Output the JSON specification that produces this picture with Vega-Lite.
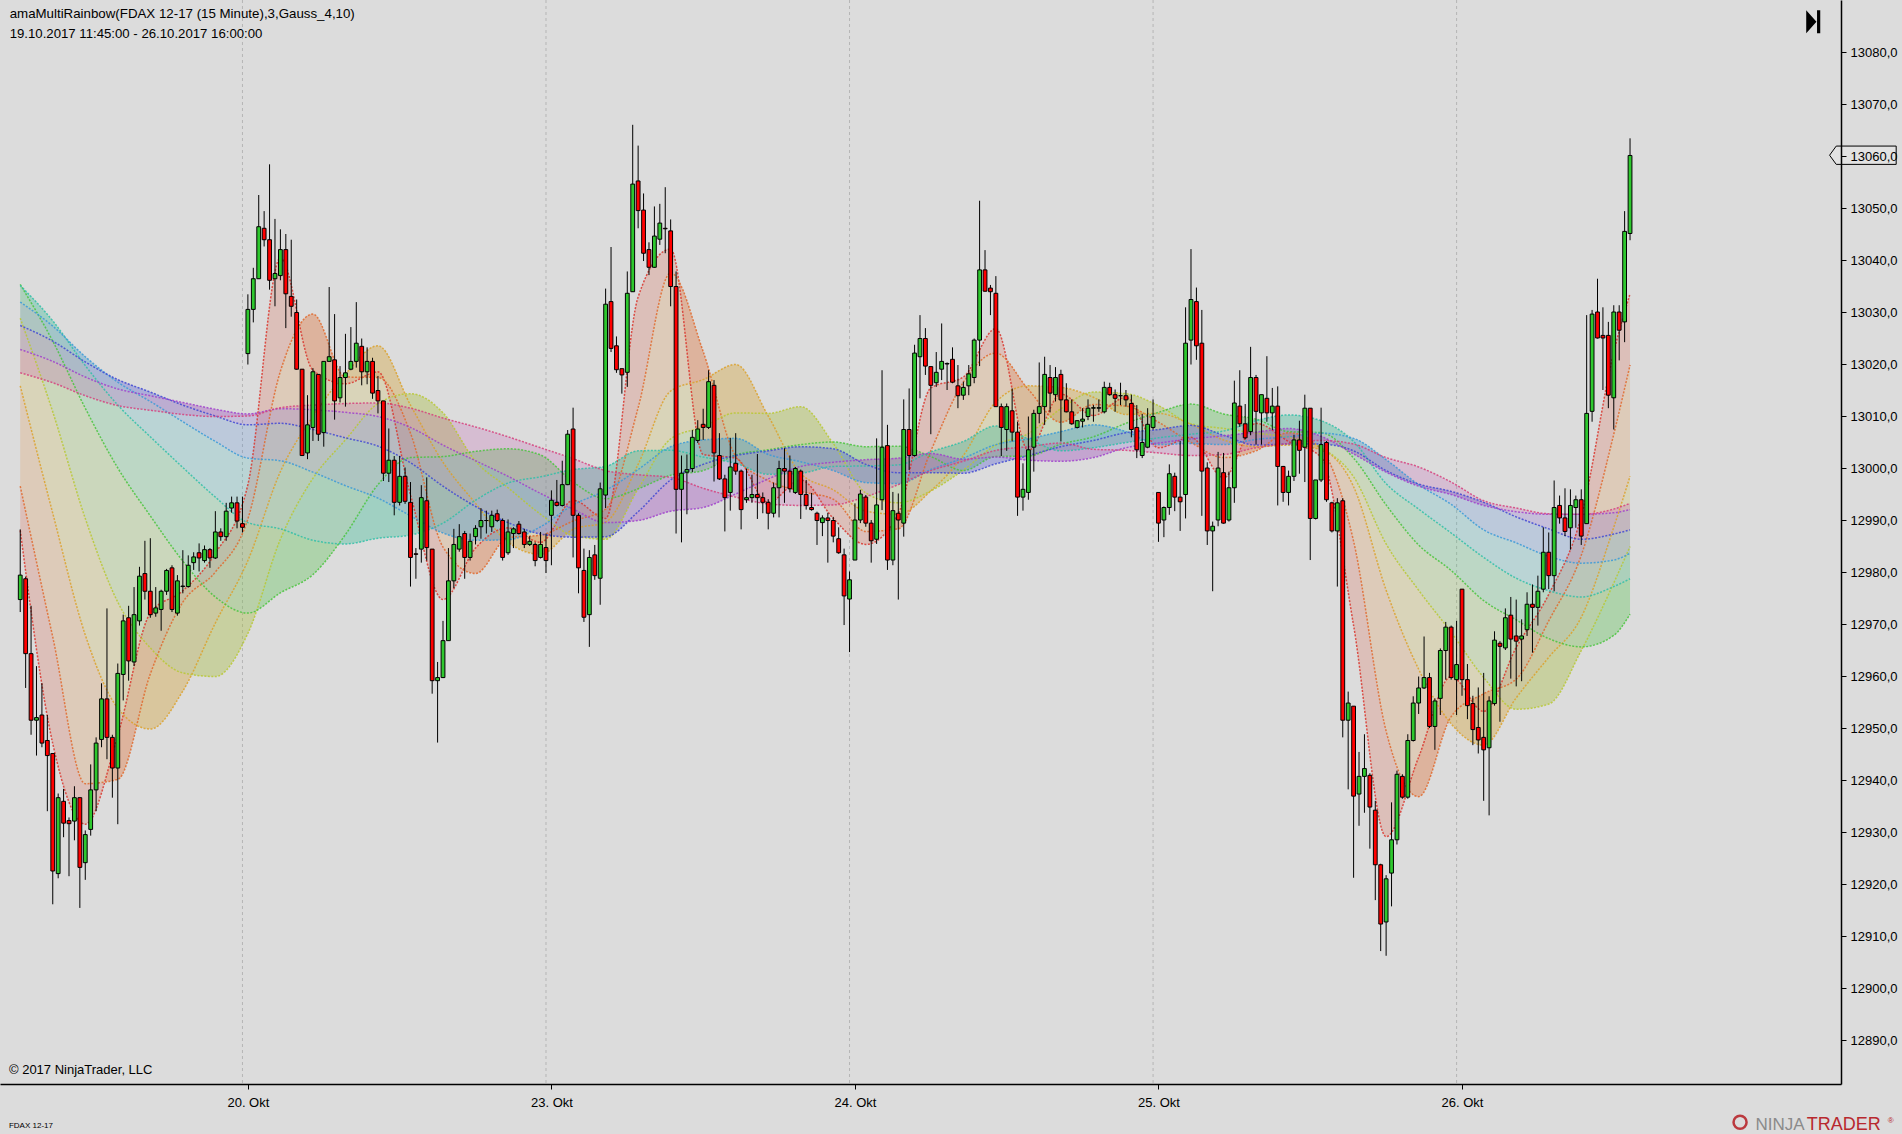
{
  "$schema": "https://vega.github.io/schema/vega-lite/v6.json",
  "width": 1841,
  "height": 1084,
  "autosize": {"type": "none"},
  "padding": {"left": 0, "top": 0, "right": 61, "bottom": 50},
  "background": "#dcdcdc",
  "config": {"view": {"stroke": null}, "font": "Liberation Sans", "axis": {"grid": false}},
  "datasets": {
    "days": [{"i": 41}, {"i": 97}, {"i": 153}, {"i": 209}, {"i": 265}],
    "mas": [
      {"i":0,"p06":12988.0,"p12":12996.5,"p24":13015.8,"p36":13028.8,"p54":13035.3,"p72":13035.1,"p90":13031.9,"p108":13027.4,"p126":13022.8,"p150":13018.3},
      {"i":6,"p06":12947.0,"p12":12967.5,"p24":12991.3,"p36":13010.8,"p54":13024.4,"p72":13028.3,"p90":13027.3,"p108":13024.4,"p126":13020.5,"p150":13016.4},
      {"i":12,"p06":12931.5,"p12":12939.3,"p24":12967.9,"p36":12990.3,"p54":13011.5,"p72":13019.7,"p90":13021.4,"p108":13020.4,"p126":13017.5,"p150":13013.9},
      {"i":18,"p06":12948.6,"p12":12940.1,"p24":12953.8,"p36":12974.2,"p54":13000.0,"p72":13012.1,"p90":13016.5,"p108":13017.0,"p126":13015.2,"p150":13012.0},
      {"i":24,"p06":12972.1,"p12":12960.4,"p24":12949.8,"p36":12965.4,"p54":12990.8,"p72":13006.0,"p90":13012.8,"p108":13014.6,"p126":13013.9,"p150":13011.1},
      {"i":30,"p06":12976.4,"p12":12974.2,"p24":12957.1,"p36":12960.6,"p54":12982.1,"p72":13000.1,"p90":13008.9,"p108":13012.1,"p126":13012.6,"p150":13010.3},
      {"i":36,"p06":12983.6,"p12":12980.0,"p24":12970.2,"p36":12959.9,"p54":12975.2,"p72":12994.4,"p90":13005.1,"p108":13010.0,"p126":13011.3,"p150":13009.9},
      {"i":42,"p06":12996.8,"p12":12990.2,"p24":12982.2,"p36":12968.2,"p54":12972.1,"p72":12989.5,"p90":13001.9,"p108":13008.3,"p126":13010.4,"p150":13010.0},
      {"i":48,"p06":13040.4,"p12":13018.6,"p24":12999.3,"p36":12986.3,"p54":12976.0,"p72":12988.3,"p90":13001.4,"p108":13008.6,"p126":13011.4,"p150":13011.6},
      {"i":54,"p06":13018.8,"p12":13029.6,"p24":13009.9,"p36":12998.0,"p54":12979.5,"p72":12986.1,"p90":12999.2,"p108":13007.4,"p126":13011.2,"p150":13012.1},
      {"i":60,"p06":13016.2,"p12":13017.5,"p24":13018.1,"p36":13005.4,"p54":12987.2,"p72":12985.4,"p90":12996.6,"p108":13005.8,"p126":13010.7,"p150":13012.4},
      {"i":66,"p06":13018.5,"p12":13017.4,"p24":13023.5,"p36":13012.4,"p54":12996.8,"p72":12986.5,"p90":12994.2,"p108":13004.2,"p126":13009.9,"p150":13012.5},
      {"i":72,"p06":12994.8,"p12":13006.7,"p24":13012.1,"p36":13014.3,"p54":13002.0,"p72":12987.1,"p90":12990.8,"p108":13001.0,"p126":13007.8,"p150":13011.5},
      {"i":78,"p06":12974.7,"p12":12984.8,"p24":13001.1,"p36":13010.6,"p54":13002.2,"p72":12989.4,"p90":12987.5,"p108":12996.5,"p126":13004.4,"p150":13009.6},
      {"i":84,"p06":12984.6,"p12":12979.7,"p24":12993.2,"p36":13001.3,"p54":13003.2,"p72":12993.8,"p90":12986.1,"p108":12992.6,"p126":13001.4,"p150":13007.9},
      {"i":90,"p06":12988.5,"p12":12986.6,"p24":12985.7,"p36":12996.2,"p54":13003.7,"p72":12997.1,"p90":12986.2,"p108":12989.5,"p126":12998.4,"p150":13006.0},
      {"i":96,"p06":12985.7,"p12":12987.1,"p24":12983.4,"p36":12991.1,"p54":13002.5,"p72":12998.3,"p90":12988.7,"p108":12987.3,"p126":12995.1,"p150":13003.9},
      {"i":102,"p06":12993.8,"p12":12989.8,"p24":12988.2,"p36":12987.0,"p54":12997.3,"p72":12999.7,"p90":12992.9,"p108":12986.7,"p126":12992.1,"p150":13001.8},
      {"i":108,"p06":12990.3,"p12":12992.1,"p24":12989.6,"p36":12986.3,"p54":12994.1,"p72":13000.3,"p90":12995.7,"p108":12986.8,"p126":12989.5,"p150":12999.5},
      {"i":114,"p06":13032.9,"p12":13011.6,"p24":13000.7,"p36":12996.0,"p54":12996.0,"p72":13003.3,"p90":12999.7,"p108":12991.6,"p126":12989.9,"p150":12998.7},
      {"i":120,"p06":13042.1,"p12":13037.5,"p24":13014.8,"p36":13005.6,"p54":12998.6,"p72":13003.4,"p90":13004.1,"p108":12997.7,"p126":12991.7,"p150":12998.2},
      {"i":126,"p06":13002.6,"p12":13022.4,"p24":13017.0,"p36":13007.9,"p54":12999.5,"p72":13002.1,"p90":13005.4,"p108":13000.7,"p126":12992.4,"p150":12996.1},
      {"i":132,"p06":13001.9,"p12":13002.3,"p24":13019.9,"p36":13010.6,"p54":13002.5,"p72":13000.9,"p90":13005.7,"p108":13002.4,"p126":12995.0,"p150":12994.4},
      {"i":138,"p06":12993.4,"p12":12997.6,"p24":13010.0,"p36":13010.5,"p54":13003.5,"p72":12998.8,"p90":13002.6,"p108":13003.3,"p126":12997.9,"p150":12993.1},
      {"i":144,"p06":12997.7,"p12":12995.5,"p24":12998.9,"p36":13011.8,"p54":13004.5,"p72":12999.0,"p90":13001.2,"p108":13004.1,"p126":13000.3,"p150":12992.8},
      {"i":150,"p06":12990.3,"p12":12994.0,"p24":12995.8,"p36":13004.7,"p54":13005.0,"p72":13000.3,"p90":12999.5,"p108":13003.7,"p126":13001.1,"p150":12992.9},
      {"i":156,"p06":12985.3,"p12":12987.8,"p24":12991.7,"p36":12995.2,"p54":13004.1,"p72":13000.4,"p90":12997.2,"p108":13000.7,"p126":13001.6,"p150":12994.5},
      {"i":162,"p06":12991.2,"p12":12988.3,"p24":12991.1,"p36":12993.3,"p54":13004.2,"p72":13000.6,"p90":12997.0,"p108":12999.1,"p126":13001.9,"p150":12996.8},
      {"i":168,"p06":13015.4,"p12":13003.3,"p24":12995.6,"p36":12995.6,"p54":13002.2,"p72":13003.1,"p90":12999.7,"p108":12999.1,"p126":13002.8,"p150":12999.5},
      {"i":174,"p06":13017.5,"p12":13016.5,"p24":13002.4,"p36":12999.6,"p54":12999.5,"p72":13005.1,"p90":13001.9,"p108":12999.0,"p126":13001.7,"p150":13001.3},
      {"i":180,"p06":13026.8,"p12":13022.1,"p24":13012.7,"p36":13004.4,"p54":13002.2,"p72":13008.1,"p90":13004.5,"p108":13000.8,"p126":13002.1,"p150":13003.4},
      {"i":186,"p06":13003.4,"p12":13015.1,"p24":13015.8,"p36":13006.6,"p54":13002.3,"p72":13005.6,"p90":13005.6,"p108":13002.4,"p126":13001.5,"p150":13004.1},
      {"i":192,"p06":13014.2,"p12":13008.8,"p24":13015.5,"p36":13011.4,"p54":13004.6,"p72":13003.3,"p90":13007.0,"p108":13004.1,"p126":13001.3,"p150":13004.8},
      {"i":198,"p06":13010.1,"p12":13012.2,"p24":13013.6,"p36":13014.6,"p54":13006.0,"p72":13003.9,"p90":13008.3,"p108":13005.3,"p126":13002.0,"p150":13003.6},
      {"i":204,"p06":13013.6,"p12":13011.9,"p24":13010.3,"p36":13014.3,"p54":13008.6,"p72":13004.9,"p90":13007.0,"p108":13006.8,"p126":13003.9,"p150":13003.4},
      {"i":210,"p06":13003.9,"p12":13008.8,"p24":13010.5,"p36":13012.0,"p54":13010.7,"p72":13005.8,"p90":13004.5,"p108":13007.4,"p126":13004.8,"p150":13002.9},
      {"i":216,"p06":13005.9,"p12":13004.9,"p24":13008.4,"p36":13008.5,"p54":13012.3,"p72":13006.5,"p90":13004.7,"p108":13008.2,"p126":13005.6,"p150":13002.4},
      {"i":222,"p06":12998.1,"p12":13002.0,"p24":13005.4,"p36":13007.6,"p54":13010.4,"p72":13007.1,"p90":13004.5,"p108":13006.3,"p126":13006.2,"p150":13002.6},
      {"i":228,"p06":13008.6,"p12":13003.3,"p24":13004.1,"p36":13006.7,"p54":13009.4,"p72":13009.1,"p90":13005.5,"p108":13004.4,"p126":13006.9,"p150":13003.9},
      {"i":234,"p06":13005.1,"p12":13006.8,"p24":13004.4,"p36":13005.9,"p54":13007.0,"p72":13010.2,"p90":13006.0,"p108":13004.6,"p126":13007.6,"p150":13004.7},
      {"i":240,"p06":13002.1,"p12":13003.6,"p24":13003.5,"p36":13003.9,"p54":13006.8,"p72":13009.1,"p90":13006.7,"p108":13004.6,"p126":13006.1,"p150":13005.3},
      {"i":246,"p06":12969.7,"p12":12985.9,"p24":12996.4,"p36":12998.3,"p54":13001.9,"p72":13005.1,"p90":13005.7,"p108":13003.3,"p126":13002.7,"p150":13004.6},
      {"i":252,"p06":12929.1,"p12":12949.4,"p24":12976.5,"p36":12985.4,"p54":12992.9,"p72":12997.0,"p90":13001.6,"p108":12999.5,"p126":12999.2,"p150":13002.0},
      {"i":258,"p06":12944.4,"p12":12936.8,"p24":12961.3,"p36":12976.5,"p54":12985.2,"p72":12992.1,"p90":12996.8,"p108":12996.9,"p126":12996.5,"p150":13000.2},
      {"i":264,"p06":12959.9,"p12":12952.2,"p24":12950.8,"p36":12968.4,"p54":12980.3,"p72":12987.5,"p90":12993.0,"p108":12995.5,"p126":12994.9,"p150":12997.3},
      {"i":270,"p06":12953.2,"p12":12956.6,"p24":12946.7,"p36":12959.7,"p54":12974.5,"p72":12982.8,"p90":12988.1,"p108":12993.4,"p126":12992.8,"p150":12993.7},
      {"i":276,"p06":12965.5,"p12":12959.4,"p24":12955.8,"p36":12953.6,"p54":12970.8,"p72":12978.8,"p90":12985.6,"p108":12990.6,"p126":12991.6,"p150":12992.3},
      {"i":282,"p06":12975.7,"p12":12970.6,"p24":12963.6,"p36":12954.6,"p54":12967.2,"p72":12976.4,"p90":12983.0,"p108":12988.3,"p126":12991.1,"p150":12991.2},
      {"i":288,"p06":12990.7,"p12":12983.2,"p24":12971.3,"p36":12964.9,"p54":12965.6,"p72":12975.2,"p90":12981.7,"p108":12986.3,"p126":12991.1,"p150":12991.1},
      {"i":294,"p06":13022.3,"p12":13006.5,"p24":12988.6,"p36":12977.9,"p54":12967.8,"p72":12977.2,"p90":12982.3,"p108":12987.3,"p126":12991.4,"p150":12992.1},
      {"i":297,"p06":13033.5,"p12":13019.8,"p24":12998.4,"p36":12984.9,"p54":12971.9,"p72":12978.7,"p90":12983.6,"p108":12988.1,"p126":12992.0,"p150":12993.2}
    ],
    "bars": [
      {"i":0,"o":12974.7,"h":12988.2,"l":12972.3,"c":12979.4},
      {"i":1,"o":12978.7,"h":12979.1,"l":12957.7,"c":12964.3},
      {"i":2,"o":12964.3,"h":12973.5,"l":12948.7,"c":12951.5},
      {"i":3,"o":12951.5,"h":12961.9,"l":12944.7,"c":12952.0},
      {"i":4,"o":12952.5,"h":12958.6,"l":12946.3,"c":12947.1},
      {"i":5,"o":12947.6,"h":12952.5,"l":12934.0,"c":12944.7},
      {"i":6,"o":12945.1,"h":12945.1,"l":12916.1,"c":12922.5},
      {"i":7,"o":12922.0,"h":12937.4,"l":12921.1,"c":12936.6},
      {"i":8,"o":12935.9,"h":12938.3,"l":12929.0,"c":12931.7},
      {"i":9,"o":12932.2,"h":12932.8,"l":12921.5,"c":12931.6},
      {"i":10,"o":12932.1,"h":12938.8,"l":12928.4,"c":12936.6},
      {"i":11,"o":12936.6,"h":12936.6,"l":12915.4,"c":12923.2},
      {"i":12,"o":12924.1,"h":12930.3,"l":12920.8,"c":12929.5},
      {"i":13,"o":12930.5,"h":12943.0,"l":12929.3,"c":12938.1},
      {"i":14,"o":12938.1,"h":12948.2,"l":12934.0,"c":12947.1},
      {"i":15,"o":12947.8,"h":12958.6,"l":12946.3,"c":12955.6},
      {"i":16,"o":12955.6,"h":12973.0,"l":12944.0,"c":12948.2},
      {"i":17,"o":12948.2,"h":12948.7,"l":12936.6,"c":12942.3},
      {"i":18,"o":12942.3,"h":12962.4,"l":12931.5,"c":12960.5},
      {"i":19,"o":12960.3,"h":12971.8,"l":12955.3,"c":12970.6},
      {"i":20,"o":12971.2,"h":12973.5,"l":12959.1,"c":12962.9},
      {"i":21,"o":12962.7,"h":12977.1,"l":12961.9,"c":12971.8},
      {"i":22,"o":12970.6,"h":12981.0,"l":12969.7,"c":12979.2},
      {"i":23,"o":12979.7,"h":12986.0,"l":12974.7,"c":12976.3},
      {"i":24,"o":12976.3,"h":12986.5,"l":12971.2,"c":12971.8},
      {"i":25,"o":12972.1,"h":12977.1,"l":12971.4,"c":12973.1},
      {"i":26,"o":12972.8,"h":12976.6,"l":12968.7,"c":12976.3},
      {"i":27,"o":12976.3,"h":12980.6,"l":12975.6,"c":12980.3},
      {"i":28,"o":12980.8,"h":12981.3,"l":12972.3,"c":12972.8},
      {"i":29,"o":12972.1,"h":12979.4,"l":12971.6,"c":12978.3},
      {"i":30,"o":12977.2,"h":12984.2,"l":12975.9,"c":12977.3},
      {"i":31,"o":12977.2,"h":12983.2,"l":12977.0,"c":12981.3},
      {"i":32,"o":12981.8,"h":12983.8,"l":12980.4,"c":12982.9},
      {"i":33,"o":12983.7,"h":12985.5,"l":12980.1,"c":12982.7},
      {"i":34,"o":12982.2,"h":12985.1,"l":12981.8,"c":12984.3},
      {"i":35,"o":12984.3,"h":12984.6,"l":12980.8,"c":12982.7},
      {"i":36,"o":12982.7,"h":12991.7,"l":12982.5,"c":12987.7},
      {"i":37,"o":12987.7,"h":12988.4,"l":12986.0,"c":12986.8},
      {"i":38,"o":12986.8,"h":12993.3,"l":12986.0,"c":12991.7},
      {"i":39,"o":12992.3,"h":12994.5,"l":12991.4,"c":12993.3},
      {"i":40,"o":12993.3,"h":12994.5,"l":12988.4,"c":12989.8},
      {"i":41,"o":12989.3,"h":12994.5,"l":12987.6,"c":12988.6},
      {"i":42,"o":13022.0,"h":13033.4,"l":13019.9,"c":13030.5},
      {"i":43,"o":13030.5,"h":13038.5,"l":13028.0,"c":13036.4},
      {"i":44,"o":13036.4,"h":13052.5,"l":13036.4,"c":13046.4},
      {"i":45,"o":13046.1,"h":13049.4,"l":13042.6,"c":13043.9},
      {"i":46,"o":13043.9,"h":13058.4,"l":13034.3,"c":13036.1},
      {"i":47,"o":13036.4,"h":13047.9,"l":13031.1,"c":13037.4},
      {"i":48,"o":13037.0,"h":13045.9,"l":13036.1,"c":13042.0},
      {"i":49,"o":13042.0,"h":13045.0,"l":13026.9,"c":13033.5},
      {"i":50,"o":13033.0,"h":13043.9,"l":13029.1,"c":13031.1},
      {"i":51,"o":13029.9,"h":13032.4,"l":13018.9,"c":13019.0},
      {"i":52,"o":13019.0,"h":13019.0,"l":13002.3,"c":13002.4},
      {"i":53,"o":13002.9,"h":13014.0,"l":13001.7,"c":13008.3},
      {"i":54,"o":13007.8,"h":13019.2,"l":13005.2,"c":13018.5},
      {"i":55,"o":13018.0,"h":13018.0,"l":13005.2,"c":13006.5},
      {"i":56,"o":13006.8,"h":13020.5,"l":13004.1,"c":13020.5},
      {"i":57,"o":13020.5,"h":13034.8,"l":13020.5,"c":13021.4},
      {"i":58,"o":13020.8,"h":13029.6,"l":13009.3,"c":13012.9},
      {"i":59,"o":13013.5,"h":13019.6,"l":13012.6,"c":13017.4},
      {"i":60,"o":13017.4,"h":13025.8,"l":13011.8,"c":13018.3},
      {"i":61,"o":13019.0,"h":13027.1,"l":13018.8,"c":13020.5},
      {"i":62,"o":13020.5,"h":13031.9,"l":13019.3,"c":13024.0},
      {"i":63,"o":13023.4,"h":13024.9,"l":13015.9,"c":13018.5},
      {"i":64,"o":13018.5,"h":13023.2,"l":13016.1,"c":13020.5},
      {"i":65,"o":13020.5,"h":13021.2,"l":13013.3,"c":13014.4},
      {"i":66,"o":13014.9,"h":13017.7,"l":13010.5,"c":13012.9},
      {"i":67,"o":13012.9,"h":13012.9,"l":12997.5,"c":12999.0},
      {"i":68,"o":12999.0,"h":13007.6,"l":12997.3,"c":13001.5},
      {"i":69,"o":13001.5,"h":13002.3,"l":12990.9,"c":12993.4},
      {"i":70,"o":12993.4,"h":13002.3,"l":12992.8,"c":12998.4},
      {"i":71,"o":12998.4,"h":13000.1,"l":12993.1,"c":12993.6},
      {"i":72,"o":12993.4,"h":12997.3,"l":12977.2,"c":12982.8},
      {"i":73,"o":12983.5,"h":12984.6,"l":12978.7,"c":12983.4},
      {"i":74,"o":12984.4,"h":12996.7,"l":12981.8,"c":12994.3},
      {"i":75,"o":12993.7,"h":12998.2,"l":12982.2,"c":12984.7},
      {"i":76,"o":12984.4,"h":12984.4,"l":12956.6,"c":12959.1},
      {"i":77,"o":12959.1,"h":12962.7,"l":12947.2,"c":12959.7},
      {"i":78,"o":12959.7,"h":12970.6,"l":12959.6,"c":12966.8},
      {"i":79,"o":12966.8,"h":12984.6,"l":12966.8,"c":12978.3},
      {"i":80,"o":12978.3,"h":12988.3,"l":12976.9,"c":12985.3},
      {"i":81,"o":12984.4,"h":12989.2,"l":12983.9,"c":12986.8},
      {"i":82,"o":12987.4,"h":12987.9,"l":12978.7,"c":12982.8},
      {"i":83,"o":12982.8,"h":12987.4,"l":12982.2,"c":12985.9},
      {"i":84,"o":12986.8,"h":12989.0,"l":12985.3,"c":12988.4},
      {"i":85,"o":12988.7,"h":12992.3,"l":12986.4,"c":12989.9},
      {"i":86,"o":12989.9,"h":12991.8,"l":12987.4,"c":12989.9},
      {"i":87,"o":12988.7,"h":12991.8,"l":12987.7,"c":12990.9},
      {"i":88,"o":12991.2,"h":12992.0,"l":12989.6,"c":12989.9},
      {"i":89,"o":12989.9,"h":12990.3,"l":12982.2,"c":12982.8},
      {"i":90,"o":12983.7,"h":12990.1,"l":12983.3,"c":12987.7},
      {"i":91,"o":12987.4,"h":12988.6,"l":12984.6,"c":12988.3},
      {"i":92,"o":12989.2,"h":12989.8,"l":12987.2,"c":12987.4},
      {"i":93,"o":12987.7,"h":12988.3,"l":12984.6,"c":12985.3},
      {"i":94,"o":12985.3,"h":12986.9,"l":12985.0,"c":12985.9},
      {"i":95,"o":12985.3,"h":12985.7,"l":12981.1,"c":12982.2},
      {"i":96,"o":12982.8,"h":12987.7,"l":12982.6,"c":12985.3},
      {"i":97,"o":12984.7,"h":12987.4,"l":12979.8,"c":12982.2},
      {"i":98,"o":12990.9,"h":12995.7,"l":12981.3,"c":12993.8},
      {"i":99,"o":12993.4,"h":12997.7,"l":12992.6,"c":12992.8},
      {"i":100,"o":12992.8,"h":13001.4,"l":12992.6,"c":12996.8},
      {"i":101,"o":12996.8,"h":13007.3,"l":12996.7,"c":13006.5},
      {"i":102,"o":13007.5,"h":13011.6,"l":12982.8,"c":12990.9},
      {"i":103,"o":12990.9,"h":12991.3,"l":12975.9,"c":12980.8},
      {"i":104,"o":12980.3,"h":12984.5,"l":12970.4,"c":12971.3},
      {"i":105,"o":12971.8,"h":12984.2,"l":12965.6,"c":12982.8},
      {"i":106,"o":12983.3,"h":12985.2,"l":12978.5,"c":12979.3},
      {"i":107,"o":12978.8,"h":12997.2,"l":12973.7,"c":12996.0},
      {"i":108,"o":12994.8,"h":13034.5,"l":12992.3,"c":13031.5},
      {"i":109,"o":13032.0,"h":13042.5,"l":13022.3,"c":13023.0},
      {"i":110,"o":13023.5,"h":13025.3,"l":13018.3,"c":13018.9},
      {"i":111,"o":13019.1,"h":13019.1,"l":13014.3,"c":13017.9},
      {"i":112,"o":13018.4,"h":13037.8,"l":13015.6,"c":13033.6},
      {"i":113,"o":13033.9,"h":13066.0,"l":13033.9,"c":13054.6},
      {"i":114,"o":13055.2,"h":13062.0,"l":13046.1,"c":13049.5},
      {"i":115,"o":13049.6,"h":13052.8,"l":13039.8,"c":13041.3},
      {"i":116,"o":13042.0,"h":13043.4,"l":13037.1,"c":13038.6},
      {"i":117,"o":13038.6,"h":13050.3,"l":13038.5,"c":13044.6},
      {"i":118,"o":13044.0,"h":13050.8,"l":13042.9,"c":13047.1},
      {"i":119,"o":13046.1,"h":13054.0,"l":13041.3,"c":13046.0},
      {"i":120,"o":13045.6,"h":13047.8,"l":13031.1,"c":13034.9},
      {"i":121,"o":13034.9,"h":13037.8,"l":12987.4,"c":12995.9},
      {"i":122,"o":12995.9,"h":13002.4,"l":12985.7,"c":12999.0},
      {"i":123,"o":12999.2,"h":13002.6,"l":12991.1,"c":12999.7},
      {"i":124,"o":12999.9,"h":13007.3,"l":12999.2,"c":13005.9},
      {"i":125,"o":13005.3,"h":13009.2,"l":13004.8,"c":13007.5},
      {"i":126,"o":13008.4,"h":13011.4,"l":13005.4,"c":13007.8},
      {"i":127,"o":13007.8,"h":13018.8,"l":13007.5,"c":13016.6},
      {"i":128,"o":13015.9,"h":13016.9,"l":12997.4,"c":13002.9},
      {"i":129,"o":13002.4,"h":13006.7,"l":12997.7,"c":12997.9},
      {"i":130,"o":12997.9,"h":12998.7,"l":12987.8,"c":12994.3},
      {"i":131,"o":12995.3,"h":13005.8,"l":12991.8,"c":13000.2},
      {"i":132,"o":13000.9,"h":13006.7,"l":12998.7,"c":12999.4},
      {"i":133,"o":12999.4,"h":12999.7,"l":12988.2,"c":12992.0},
      {"i":134,"o":12993.9,"h":12999.9,"l":12993.3,"c":12994.3},
      {"i":135,"o":12994.3,"h":12998.7,"l":12993.3,"c":12994.9},
      {"i":136,"o":12994.9,"h":13002.7,"l":12990.2,"c":12994.3},
      {"i":137,"o":12994.3,"h":12995.3,"l":12991.3,"c":12993.4},
      {"i":138,"o":12993.4,"h":12994.0,"l":12988.2,"c":12991.3},
      {"i":139,"o":12991.3,"h":12997.2,"l":12990.5,"c":12996.2},
      {"i":140,"o":12996.2,"h":13001.4,"l":12990.5,"c":12999.9},
      {"i":141,"o":12999.9,"h":13003.8,"l":12993.3,"c":12999.4},
      {"i":142,"o":12999.4,"h":13002.4,"l":12995.3,"c":12996.0},
      {"i":143,"o":12995.3,"h":13000.2,"l":12995.0,"c":12999.9},
      {"i":144,"o":12999.4,"h":12999.7,"l":12990.2,"c":12994.9},
      {"i":145,"o":12994.9,"h":12997.7,"l":12992.0,"c":12992.8},
      {"i":146,"o":12992.4,"h":12995.2,"l":12991.8,"c":12992.0},
      {"i":147,"o":12991.3,"h":12991.6,"l":12985.2,"c":12989.9},
      {"i":148,"o":12989.5,"h":12990.9,"l":12986.9,"c":12990.4},
      {"i":149,"o":12990.4,"h":12991.4,"l":12981.8,"c":12989.9},
      {"i":150,"o":12989.9,"h":12990.6,"l":12985.7,"c":12986.9},
      {"i":151,"o":12986.4,"h":12988.6,"l":12983.5,"c":12983.7},
      {"i":152,"o":12983.3,"h":12984.5,"l":12969.8,"c":12975.4},
      {"i":153,"o":12974.8,"h":12980.1,"l":12964.6,"c":12978.5},
      {"i":154,"o":12982.3,"h":12993.2,"l":12982.3,"c":12990.0},
      {"i":155,"o":12990.0,"h":12995.8,"l":12989.4,"c":12995.0},
      {"i":156,"o":12994.4,"h":12994.8,"l":12988.7,"c":12989.4},
      {"i":157,"o":12989.4,"h":12990.0,"l":12981.8,"c":12986.0},
      {"i":158,"o":12986.3,"h":13005.7,"l":12985.4,"c":12992.9},
      {"i":159,"o":12993.9,"h":13018.8,"l":12991.9,"c":13004.0},
      {"i":160,"o":13004.3,"h":13008.3,"l":12980.4,"c":12982.3},
      {"i":161,"o":12982.3,"h":12995.4,"l":12981.3,"c":12991.8},
      {"i":162,"o":12991.3,"h":12995.1,"l":12974.7,"c":12990.0},
      {"i":163,"o":12989.4,"h":13013.2,"l":12986.8,"c":13007.4},
      {"i":164,"o":13007.4,"h":13015.3,"l":12999.6,"c":13002.4},
      {"i":165,"o":13002.4,"h":13023.7,"l":13002.2,"c":13022.1},
      {"i":166,"o":13021.4,"h":13029.4,"l":13013.4,"c":13024.9},
      {"i":167,"o":13024.9,"h":13026.9,"l":13017.9,"c":13019.6},
      {"i":168,"o":13019.5,"h":13019.5,"l":13006.5,"c":13015.9},
      {"i":169,"o":13016.4,"h":13022.3,"l":13015.6,"c":13018.4},
      {"i":170,"o":13019.0,"h":13027.8,"l":13016.9,"c":13020.5},
      {"i":171,"o":13020.0,"h":13020.3,"l":13015.0,"c":13020.1},
      {"i":172,"o":13020.9,"h":13023.2,"l":13016.3,"c":13016.5},
      {"i":173,"o":13015.8,"h":13019.8,"l":13011.5,"c":13013.9},
      {"i":174,"o":13014.0,"h":13016.6,"l":13013.1,"c":13015.5},
      {"i":175,"o":13015.8,"h":13019.8,"l":13014.0,"c":13018.1},
      {"i":176,"o":13017.4,"h":13024.9,"l":13016.3,"c":13024.6},
      {"i":177,"o":13024.6,"h":13051.4,"l":13019.6,"c":13038.1},
      {"i":178,"o":13038.1,"h":13041.9,"l":13033.9,"c":13034.0},
      {"i":179,"o":13034.6,"h":13035.2,"l":13029.4,"c":13033.9},
      {"i":180,"o":13033.6,"h":13036.9,"l":13011.8,"c":13011.8},
      {"i":181,"o":13011.8,"h":13012.4,"l":13002.3,"c":13007.8},
      {"i":182,"o":13007.4,"h":13012.4,"l":13003.3,"c":13011.8},
      {"i":183,"o":13011.0,"h":13015.3,"l":13005.1,"c":13006.9},
      {"i":184,"o":13006.9,"h":13008.9,"l":12990.8,"c":12994.4},
      {"i":185,"o":12994.4,"h":13000.9,"l":12991.8,"c":12995.9},
      {"i":186,"o":12995.3,"h":13009.9,"l":12993.9,"c":13003.5},
      {"i":187,"o":13004.0,"h":13011.2,"l":12999.3,"c":13010.5},
      {"i":188,"o":13010.5,"h":13020.3,"l":13008.6,"c":13011.8},
      {"i":189,"o":13011.8,"h":13021.4,"l":13008.3,"c":13018.0},
      {"i":190,"o":13017.4,"h":13019.8,"l":13010.7,"c":13014.4},
      {"i":191,"o":13014.1,"h":13019.4,"l":13012.8,"c":13017.4},
      {"i":192,"o":13018.0,"h":13018.9,"l":13005.1,"c":13013.1},
      {"i":193,"o":13013.1,"h":13016.3,"l":13010.7,"c":13010.8},
      {"i":194,"o":13010.8,"h":13013.2,"l":13008.3,"c":13008.5},
      {"i":195,"o":13007.8,"h":13009.2,"l":13007.6,"c":13009.1},
      {"i":196,"o":13009.0,"h":13011.5,"l":13007.8,"c":13009.4},
      {"i":197,"o":13009.9,"h":13013.2,"l":13009.2,"c":13011.5},
      {"i":198,"o":13011.5,"h":13012.1,"l":13008.9,"c":13011.6},
      {"i":199,"o":13011.5,"h":13013.2,"l":13010.8,"c":13011.6},
      {"i":200,"o":13010.8,"h":13016.6,"l":13010.5,"c":13015.5},
      {"i":201,"o":13015.5,"h":13016.4,"l":13013.9,"c":13014.1},
      {"i":202,"o":13014.1,"h":13015.1,"l":13010.8,"c":13013.4},
      {"i":203,"o":13013.9,"h":13016.4,"l":13012.1,"c":13013.9},
      {"i":204,"o":13013.9,"h":13015.0,"l":13011.8,"c":13013.1},
      {"i":205,"o":13012.4,"h":13014.1,"l":13005.9,"c":13007.4},
      {"i":206,"o":13007.8,"h":13012.1,"l":13001.9,"c":13003.5},
      {"i":207,"o":13002.4,"h":13010.4,"l":13001.9,"c":13004.9},
      {"i":208,"o":13004.0,"h":13011.5,"l":13003.8,"c":13008.4},
      {"i":209,"o":13007.8,"h":13013.2,"l":13007.4,"c":13009.9},
      {"i":210,"o":12995.3,"h":12995.3,"l":12985.8,"c":12989.4},
      {"i":211,"o":12990.0,"h":12992.6,"l":12986.7,"c":12992.4},
      {"i":212,"o":12992.4,"h":13000.7,"l":12991.0,"c":12998.9},
      {"i":213,"o":12998.4,"h":12999.1,"l":12991.7,"c":12994.4},
      {"i":214,"o":12994.4,"h":13005.2,"l":12987.9,"c":12993.5},
      {"i":215,"o":12994.9,"h":13030.9,"l":12990.3,"c":13024.0},
      {"i":216,"o":13024.6,"h":13042.1,"l":13019.9,"c":13032.4},
      {"i":217,"o":13032.0,"h":13034.7,"l":13020.8,"c":13023.5},
      {"i":218,"o":13024.0,"h":13030.4,"l":12990.8,"c":12999.4},
      {"i":219,"o":13000.0,"h":13001.1,"l":12985.2,"c":12987.9},
      {"i":220,"o":12987.9,"h":12989.7,"l":12976.3,"c":12988.8},
      {"i":221,"o":12990.0,"h":13003.1,"l":12988.8,"c":13000.0},
      {"i":222,"o":12999.1,"h":13002.9,"l":12989.3,"c":12989.4},
      {"i":223,"o":12990.0,"h":12999.3,"l":12989.7,"c":12996.2},
      {"i":224,"o":12996.2,"h":13016.8,"l":12993.3,"c":13012.5},
      {"i":225,"o":13011.9,"h":13018.8,"l":13007.9,"c":13008.5},
      {"i":226,"o":13008.5,"h":13012.3,"l":13005.5,"c":13005.8},
      {"i":227,"o":13007.0,"h":13023.3,"l":13006.3,"c":13017.4},
      {"i":228,"o":13017.4,"h":13017.9,"l":13004.5,"c":13010.9},
      {"i":229,"o":13010.6,"h":13014.1,"l":13004.5,"c":13014.1},
      {"i":230,"o":13013.4,"h":13021.5,"l":13008.9,"c":13010.6},
      {"i":231,"o":13010.6,"h":13015.4,"l":13007.3,"c":13011.9},
      {"i":232,"o":13011.9,"h":13015.7,"l":12992.8,"c":13000.3},
      {"i":233,"o":13000.3,"h":13000.4,"l":12993.5,"c":12995.3},
      {"i":234,"o":12995.3,"h":12999.5,"l":12992.8,"c":12998.4},
      {"i":235,"o":12998.4,"h":13006.4,"l":12997.5,"c":13005.4},
      {"i":236,"o":13005.4,"h":13009.1,"l":12998.9,"c":13003.4},
      {"i":237,"o":13004.0,"h":13014.1,"l":12997.3,"c":13011.5},
      {"i":238,"o":13011.5,"h":13011.5,"l":12982.3,"c":12990.3},
      {"i":239,"o":12990.3,"h":12997.7,"l":12990.1,"c":12997.7},
      {"i":240,"o":12997.7,"h":13011.6,"l":12997.3,"c":13004.5},
      {"i":241,"o":13004.9,"h":13005.2,"l":12993.5,"c":12993.9},
      {"i":242,"o":12993.3,"h":12993.5,"l":12987.6,"c":12987.9},
      {"i":243,"o":12987.9,"h":12994.2,"l":12977.2,"c":12993.3},
      {"i":244,"o":12993.7,"h":12994.2,"l":12948.2,"c":12951.5},
      {"i":245,"o":12951.5,"h":12957.0,"l":12938.2,"c":12954.8},
      {"i":246,"o":12954.2,"h":12954.2,"l":12921.2,"c":12936.9},
      {"i":247,"o":12937.3,"h":12945.4,"l":12931.2,"c":12940.7},
      {"i":248,"o":12940.7,"h":12948.8,"l":12933.7,"c":12942.2},
      {"i":249,"o":12940.9,"h":12941.3,"l":12926.8,"c":12934.8},
      {"i":250,"o":12934.2,"h":12936.0,"l":12916.9,"c":12923.7},
      {"i":251,"o":12923.7,"h":12923.9,"l":12907.1,"c":12912.3},
      {"i":252,"o":12912.7,"h":12921.7,"l":12906.2,"c":12921.0},
      {"i":253,"o":12922.1,"h":12935.7,"l":12915.7,"c":12928.5},
      {"i":254,"o":12928.5,"h":12941.8,"l":12927.6,"c":12941.1},
      {"i":255,"o":12940.7,"h":12941.1,"l":12936.4,"c":12936.7},
      {"i":256,"o":12936.7,"h":12948.8,"l":12936.4,"c":12947.6},
      {"i":257,"o":12947.6,"h":12956.1,"l":12947.4,"c":12954.8},
      {"i":258,"o":12954.8,"h":12959.9,"l":12952.7,"c":12957.7},
      {"i":259,"o":12957.7,"h":12967.6,"l":12957.5,"c":12959.7},
      {"i":260,"o":12959.7,"h":12960.6,"l":12950.0,"c":12950.3},
      {"i":261,"o":12950.3,"h":12955.7,"l":12945.8,"c":12955.2},
      {"i":262,"o":12955.7,"h":12965.3,"l":12952.5,"c":12964.9},
      {"i":263,"o":12964.9,"h":12970.4,"l":12959.3,"c":12969.4},
      {"i":264,"o":12969.4,"h":12969.7,"l":12959.3,"c":12959.7},
      {"i":265,"o":12959.3,"h":12970.6,"l":12952.5,"c":12962.2},
      {"i":266,"o":12976.7,"h":12976.7,"l":12956.2,"c":12959.3},
      {"i":267,"o":12959.3,"h":12962.3,"l":12951.7,"c":12954.3},
      {"i":268,"o":12954.7,"h":12956.2,"l":12946.7,"c":12949.7},
      {"i":269,"o":12950.1,"h":12957.8,"l":12945.1,"c":12947.7},
      {"i":270,"o":12948.2,"h":12960.6,"l":12936.0,"c":12945.8},
      {"i":271,"o":12946.2,"h":12956.1,"l":12933.2,"c":12955.2},
      {"i":272,"o":12954.7,"h":12968.6,"l":12954.3,"c":12966.9},
      {"i":273,"o":12966.3,"h":12966.7,"l":12951.2,"c":12965.7},
      {"i":274,"o":12965.4,"h":12973.0,"l":12965.0,"c":12971.2},
      {"i":275,"o":12971.7,"h":12975.2,"l":12959.5,"c":12967.1},
      {"i":276,"o":12967.7,"h":12974.7,"l":12958.0,"c":12966.7},
      {"i":277,"o":12967.1,"h":12970.9,"l":12959.0,"c":12967.7},
      {"i":278,"o":12968.9,"h":12976.1,"l":12967.7,"c":12973.8},
      {"i":279,"o":12973.8,"h":12977.6,"l":12964.5,"c":12973.2},
      {"i":280,"o":12973.2,"h":12979.3,"l":12969.7,"c":12976.3},
      {"i":281,"o":12976.7,"h":12988.6,"l":12976.1,"c":12983.8},
      {"i":282,"o":12983.8,"h":12987.6,"l":12976.7,"c":12979.3},
      {"i":283,"o":12979.3,"h":12997.6,"l":12976.3,"c":12992.4},
      {"i":284,"o":12992.8,"h":12994.7,"l":12989.3,"c":12990.4},
      {"i":285,"o":12990.4,"h":12996.1,"l":12986.9,"c":12987.8},
      {"i":286,"o":12988.5,"h":12995.9,"l":12984.3,"c":12992.8},
      {"i":287,"o":12992.4,"h":12994.7,"l":12988.5,"c":12993.9},
      {"i":288,"o":12993.9,"h":12995.9,"l":12985.2,"c":12986.9},
      {"i":289,"o":12989.3,"h":13029.4,"l":12989.3,"c":13010.5},
      {"i":290,"o":13010.9,"h":13030.4,"l":13008.9,"c":13029.6},
      {"i":291,"o":13030.0,"h":13036.4,"l":13024.9,"c":13025.0},
      {"i":292,"o":13025.5,"h":13030.9,"l":13015.0,"c":13025.0},
      {"i":293,"o":13025.5,"h":13028.1,"l":13011.5,"c":13014.0},
      {"i":294,"o":13013.5,"h":13031.3,"l":13007.4,"c":13030.0},
      {"i":295,"o":13030.0,"h":13031.3,"l":13020.7,"c":13026.5},
      {"i":296,"o":13028.1,"h":13049.4,"l":13024.2,"c":13045.5},
      {"i":297,"o":13045.1,"h":13063.4,"l":13043.8,"c":13060.1}
    ]
  },
  "layer": [
    {
      "data": {"name": "days"},
      "mark": {"type": "rule", "color": "#b5b5b5", "strokeDash": [3, 3], "strokeWidth": 1},
      "encoding": {
        "x": {
          "field": "i", "type": "quantitative", "title": null,
          "scale": {"domain": [-2.81, 335.0], "nice": false, "zero": false},
          "axis": {
            "orient": "bottom", "values": [42, 98, 154, 210, 266],
            "labelExpr": "datum.value == 42 ? '20. Okt' : datum.value == 98 ? '23. Okt' : datum.value == 154 ? '24. Okt' : datum.value == 210 ? '25. Okt' : '26. Okt'",
            "grid": false, "domainColor": "#000000", "domainWidth": 1.5, "tickColor": "#000000", "tickSize": 5,
            "labelFontSize": 13, "labelColor": "#000000", "labelPadding": 7, "labelFlush": false
          }
        }
      }
    },
    {
      "data": {"name": "mas"},
      "layer": [
        {"mark": {"type": "area", "interpolate": "monotone", "fill": "#de4b2e", "fillOpacity": 0.2},
         "encoding": {"y": {"field": "p06", "type": "quantitative", "title": null, "scale": {"domain": [12881.54, 13090.0], "nice": false, "zero": false},
           "axis": {"orient": "right", "values": [12890, 12900, 12910, 12920, 12930, 12940, 12950, 12960, 12970, 12980, 12990, 13000, 13010, 13020, 13030, 13040, 13050, 13060, 13070, 13080],
             "labelExpr": "replace(format(datum.value, '.1f'), '.', ',')", "grid": false, "domainColor": "#000000", "domainWidth": 1.5,
             "tickColor": "#000000", "tickSize": 5, "labelFontSize": 13, "labelColor": "#000000", "labelPadding": 4, "zindex": 1}},
           "y2": {"field": "p12"}}},
        {"mark": {"type": "area", "interpolate": "monotone", "fill": "#e0852c", "fillOpacity": 0.2},
         "encoding": {"y": {"field": "p12", "type": "quantitative", "title": null, "scale": {"domain": [12881.54, 13090.0], "nice": false, "zero": false}}, "y2": {"field": "p24"}}},
        {"mark": {"type": "area", "interpolate": "monotone", "fill": "#cdb52e", "fillOpacity": 0.2},
         "encoding": {"y": {"field": "p24", "type": "quantitative", "title": null, "scale": {"domain": [12881.54, 13090.0], "nice": false, "zero": false}}, "y2": {"field": "p36"}}},
        {"mark": {"type": "area", "interpolate": "monotone", "fill": "#86c43a", "fillOpacity": 0.2},
         "encoding": {"y": {"field": "p36", "type": "quantitative", "title": null, "scale": {"domain": [12881.54, 13090.0], "nice": false, "zero": false}}, "y2": {"field": "p54"}}},
        {"mark": {"type": "area", "interpolate": "monotone", "fill": "#3ec26a", "fillOpacity": 0.2},
         "encoding": {"y": {"field": "p54", "type": "quantitative", "title": null, "scale": {"domain": [12881.54, 13090.0], "nice": false, "zero": false}}, "y2": {"field": "p72"}}},
        {"mark": {"type": "area", "interpolate": "monotone", "fill": "#33b4b8", "fillOpacity": 0.2},
         "encoding": {"y": {"field": "p72", "type": "quantitative", "title": null, "scale": {"domain": [12881.54, 13090.0], "nice": false, "zero": false}}, "y2": {"field": "p90"}}},
        {"mark": {"type": "area", "interpolate": "monotone", "fill": "#3b7dd6", "fillOpacity": 0.2},
         "encoding": {"y": {"field": "p90", "type": "quantitative", "title": null, "scale": {"domain": [12881.54, 13090.0], "nice": false, "zero": false}}, "y2": {"field": "p108"}}},
        {"mark": {"type": "area", "interpolate": "monotone", "fill": "#6e48d0", "fillOpacity": 0.2},
         "encoding": {"y": {"field": "p108", "type": "quantitative", "title": null, "scale": {"domain": [12881.54, 13090.0], "nice": false, "zero": false}}, "y2": {"field": "p126"}}},
        {"mark": {"type": "area", "interpolate": "monotone", "fill": "#c042a8", "fillOpacity": 0.2},
         "encoding": {"y": {"field": "p126", "type": "quantitative", "title": null, "scale": {"domain": [12881.54, 13090.0], "nice": false, "zero": false}}, "y2": {"field": "p150"}}},
        {
          "transform": [{"fold": ["p06", "p12", "p24", "p36", "p54", "p72", "p90", "p108", "p126", "p150"], "as": ["ma", "v"]}],
          "mark": {"type": "line", "interpolate": "monotone", "strokeWidth": 1.5, "opacity": 0.85, "strokeDash": [2, 1.5]},
          "encoding": {
            "y": {"field": "v", "type": "quantitative", "title": null, "scale": {"domain": [12881.54, 13090.0], "nice": false, "zero": false}},
            "color": {"field": "ma", "type": "nominal", "legend": null,
              "scale": {"domain": ["p06", "p12", "p24", "p36", "p54", "p72", "p90", "p108", "p126", "p150"],
                "range": ["#d9342b", "#e0692c", "#dca12a", "#b8c832", "#48c43c", "#2fc0a8", "#3a9ad8", "#4048d4", "#a040cc", "#d6407c"]}}
          }
        }
      ],
      "encoding": {"x": {"field": "i", "type": "quantitative", "title": null, "scale": {"domain": [-2.81, 335.0], "nice": false, "zero": false}}}
    },
    {
      "data": {"name": "bars"},
      "encoding": {"x": {"field": "i", "type": "quantitative", "title": null, "scale": {"domain": [-2.81, 335.0], "nice": false, "zero": false}}},
      "layer": [
        {"mark": {"type": "rule", "color": "#000000", "strokeWidth": 1},
         "encoding": {"y": {"field": "l", "type": "quantitative", "title": null, "scale": {"domain": [12881.54, 13090.0], "nice": false, "zero": false}}, "y2": {"field": "h"}}},
        {"mark": {"type": "bar", "width": 3.8, "stroke": "#000000", "strokeWidth": 1},
         "encoding": {
           "y": {"field": "o", "type": "quantitative", "title": null, "scale": {"domain": [12881.54, 13090.0], "nice": false, "zero": false}},
           "y2": {"field": "c"},
           "fill": {"condition": {"test": "datum.c >= datum.o", "value": "#2ec82e"}, "value": "#ff0000"}
         }}
      ]
    },
    {
      "data": {"values": [{}]},
      "layer": [
        {"mark": {"type": "text", "text": "amaMultiRainbow(FDAX 12-17 (15 Minute),3,Gauss_4,10)", "align": "left", "baseline": "alphabetic", "fontSize": 13.3, "color": "#000000"},
         "encoding": {"x": {"datum": -1.95, "type": "quantitative", "title": null, "scale": {"domain": [-2.81, 335.0], "nice": false, "zero": false}},
           "y": {"datum": 13086.5, "type": "quantitative", "title": null, "scale": {"domain": [12881.54, 13090.0], "nice": false, "zero": false}}}},
        {"mark": {"type": "text", "text": "19.10.2017 11:45:00 - 26.10.2017 16:00:00", "align": "left", "baseline": "alphabetic", "fontSize": 13.2, "color": "#000000"},
         "encoding": {"x": {"datum": -1.95, "type": "quantitative", "title": null, "scale": {"domain": [-2.81, 335.0], "nice": false, "zero": false}},
           "y": {"datum": 13082.75, "type": "quantitative", "title": null, "scale": {"domain": [12881.54, 13090.0], "nice": false, "zero": false}}}},
        {"mark": {"type": "text", "text": "© 2017 NinjaTrader, LLC", "align": "left", "baseline": "alphabetic", "fontSize": 13, "color": "#000000"},
         "encoding": {"x": {"datum": -2.08, "type": "quantitative", "title": null, "scale": {"domain": [-2.81, 335.0], "nice": false, "zero": false}},
           "y": {"datum": 12883.5, "type": "quantitative", "title": null, "scale": {"domain": [12881.54, 13090.0], "nice": false, "zero": false}}}},
        {"mark": {"type": "text", "text": "FDAX 12-17", "align": "left", "baseline": "alphabetic", "fontSize": 8, "color": "#000000"},
         "encoding": {"x": {"datum": -2.08, "type": "quantitative", "title": null, "scale": {"domain": [-2.81, 335.0], "nice": false, "zero": false}},
           "y": {"datum": 12873.1, "type": "quantitative", "title": null, "scale": {"domain": [12881.54, 13090.0], "nice": false, "zero": false}}}},
        {"mark": {"type": "point", "filled": false, "stroke": "#b8282e", "strokeWidth": 2.5, "opacity": 0.9, "size": 170, "shape": "circle"},
         "encoding": {"x": {"datum": 317.3, "type": "quantitative", "title": null, "scale": {"domain": [-2.81, 335.0], "nice": false, "zero": false}},
           "y": {"datum": 12874.2, "type": "quantitative", "title": null, "scale": {"domain": [12881.54, 13090.0], "nice": false, "zero": false}}}},
        {"mark": {"type": "text", "text": "NINJA", "align": "left", "baseline": "alphabetic", "fontSize": 17, "color": "#8a8a8a"},
         "encoding": {"x": {"datum": 320.14, "type": "quantitative", "title": null, "scale": {"domain": [-2.81, 335.0], "nice": false, "zero": false}},
           "y": {"datum": 12872.7, "type": "quantitative", "title": null, "scale": {"domain": [12881.54, 13090.0], "nice": false, "zero": false}}}},
        {"mark": {"type": "text", "text": "TRADER", "align": "left", "baseline": "alphabetic", "fontSize": 18, "color": "#b8282e"},
         "encoding": {"x": {"datum": 329.6, "type": "quantitative", "title": null, "scale": {"domain": [-2.81, 335.0], "nice": false, "zero": false}},
           "y": {"datum": 12872.7, "type": "quantitative", "title": null, "scale": {"domain": [12881.54, 13090.0], "nice": false, "zero": false}}}},
        {"mark": {"type": "text", "text": "®", "align": "left", "baseline": "alphabetic", "fontSize": 8, "color": "#b8282e"},
         "encoding": {"x": {"datum": 344.54, "type": "quantitative", "title": null, "scale": {"domain": [-2.81, 335.0], "nice": false, "zero": false}},
           "y": {"datum": 12874.04, "type": "quantitative", "title": null, "scale": {"domain": [12881.54, 13090.0], "nice": false, "zero": false}}}},
        {"mark": {"type": "point", "filled": true, "color": "#000000", "opacity": 1, "size": 529, "shape": "M-0.61,-1L0.28,0L-0.61,1ZM0.33,-1L0.61,-1L0.61,1L0.33,1Z"},
         "encoding": {"x": {"datum": 330.8, "type": "quantitative", "title": null, "scale": {"domain": [-2.81, 335.0], "nice": false, "zero": false}},
           "y": {"datum": 13085.8, "type": "quantitative", "title": null, "scale": {"domain": [12881.54, 13090.0], "nice": false, "zero": false}}}},
        {"mark": {"type": "point", "filled": true, "fill": "#e2e2e2", "stroke": "#000000", "strokeWidth": 1, "opacity": 1, "size": 4436, "shape": "M-1,0L-0.8,-0.275L1,-0.275L1,0.275L-0.8,0.275Z"},
         "encoding": {"x": {"datum": 339.96, "type": "quantitative", "title": null, "scale": {"domain": [-2.81, 335.0], "nice": false, "zero": false}},
           "y": {"datum": 13060.15, "type": "quantitative", "title": null, "scale": {"domain": [12881.54, 13090.0], "nice": false, "zero": false}}}}
      ]
    }
  ]
}
